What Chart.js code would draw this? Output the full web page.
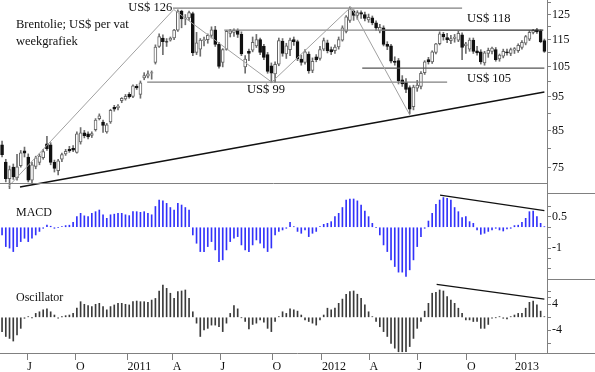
<!DOCTYPE html>
<html>
<head>
<meta charset="utf-8">
<script src="https://cdn.jsdelivr.net/npm/chart.js@4"></script>
<style>
  html, body { margin: 0; padding: 0; background: #fff; }
  canvas { display: block; }
</style>
</head>
<body>
<canvas id="brentChart" width="595" height="372"></canvas>
<script>
// Brent weekly candles, mid May 2010 - end Feb 2013 (one entry per week)
const opens = [
  81.0, 76.5, 72.4, 75.2, 72.6, 75.6, 79.4, 77.8, 72.0, 75.4,
  76.4, 77.6, 81.3, 81.0, 76.4, 74.3, 77.2, 78.6, 79.8, 80.1,
  79.0, 81.8, 84.3, 84.0, 83.6, 85.2, 88.4, 87.4, 84.6, 87.4,
  91.8, 91.6, 93.8, 94.4, 95.8, 95.2, 98.4, 95.8, 101.2, 101.8,
  102.8, 106.6, 112.4, 115.6, 114.2, 114.8, 115.6, 118.7, 126.4, 123.2,
  123.6, 125.4, 110.2, 111.4, 114.6, 115.0, 116.6, 118.8, 113.2, 106.6,
  111.3, 117.4, 117.8, 118.6, 117.0, 105.0, 110.6, 111.0, 112.6, 115.0,
  112.4, 109.4, 105.4, 102.6, 106.0, 114.4, 109.6, 111.2, 115.0, 114.2,
  107.8, 106.6, 109.6, 103.8, 108.6, 108.0, 111.4, 113.8, 111.2, 110.8,
  112.2, 114.8, 118.2, 122.6, 126.4, 124.6, 125.8, 125.0, 122.8, 123.6,
  121.6, 118.4, 119.6, 113.2, 112.6, 107.0, 107.2, 100.6, 99.8, 98.0,
  92.0, 97.8, 98.4, 103.0, 107.6, 106.8, 110.2, 113.4, 117.0, 115.8,
  114.6, 115.4, 114.8, 116.8, 112.6, 111.4, 114.8, 110.8, 110.4, 106.4,
  109.8, 110.6, 111.2, 107.8, 108.8, 110.4, 109.8, 111.0, 110.8, 112.0,
  113.6, 115.2, 117.8, 118.8, 118.2, 114.6
];
const highs = [
  82.0, 77.2, 75.5, 76.0, 78.5, 79.5, 80.4, 78.6, 76.4, 78.0,
  78.6, 79.8, 83.3, 81.6, 77.0, 77.2, 78.8, 79.8, 80.6, 80.8,
  84.6, 85.8, 85.0, 84.6, 84.6, 88.4, 89.8, 88.0, 87.0, 91.2,
  92.4, 92.6, 94.8, 95.8, 96.4, 98.9, 99.0, 100.2, 103.0, 103.6,
  103.6, 113.0, 117.2, 116.8, 115.4, 116.0, 119.0, 127.0, 126.8, 125.0,
  126.4, 126.0, 117.8, 115.4, 116.0, 117.2, 120.0, 120.2, 114.0, 111.6,
  118.6, 119.0, 119.2, 119.2, 118.0, 109.0, 111.4, 116.0, 117.0, 115.6,
  113.2, 110.2, 106.4, 106.8, 115.6, 115.4, 113.6, 115.6, 116.0, 114.8,
  109.2, 111.2, 110.4, 108.2, 109.4, 112.4, 115.6, 114.8, 112.2, 113.0,
  116.0, 120.4, 124.6, 128.2, 127.0, 126.6, 126.6, 126.0, 125.2, 124.4,
  122.4, 121.0, 120.4, 114.2, 113.2, 108.6, 108.0, 102.0, 101.0, 98.6,
  98.8, 100.4, 103.4, 107.2, 108.4, 110.8, 113.6, 118.0, 117.8, 117.4,
  116.6, 117.0, 118.2, 117.6, 114.0, 115.6, 115.6, 112.4, 111.2, 110.6,
  111.8, 112.2, 112.0, 109.6, 111.4, 111.4, 111.8, 112.0, 113.4, 114.6,
  116.6, 118.4, 119.0, 119.4, 118.8, 115.2
];
const lows = [
  77.8, 71.6, 70.0, 72.2, 72.0, 75.2, 77.8, 71.6, 71.2, 74.8,
  75.8, 77.2, 79.5, 75.8, 74.0, 73.3, 76.6, 78.2, 79.0, 79.2,
  78.8, 81.2, 82.9, 82.6, 83.0, 84.8, 88.0, 84.4, 84.2, 87.0,
  90.6, 91.0, 93.2, 94.0, 94.6, 94.8, 97.4, 94.6, 100.6, 101.2,
  100.8, 106.0, 112.0, 109.4, 112.4, 114.4, 115.0, 118.2, 119.6, 120.8,
  122.6, 109.0, 109.4, 108.8, 112.6, 113.6, 115.6, 112.4, 104.6, 105.0,
  111.0, 116.0, 116.2, 115.8, 109.0, 102.8, 107.2, 110.4, 112.0, 109.4,
  107.6, 102.8, 99.6, 99.8, 105.4, 108.8, 108.0, 109.0, 112.8, 107.2,
  105.6, 106.0, 102.8, 103.0, 106.8, 107.4, 110.8, 110.0, 109.4, 109.8,
  111.4, 114.4, 117.6, 121.8, 122.6, 123.0, 123.4, 122.4, 121.8, 120.8,
  118.6, 117.6, 112.6, 111.2, 106.4, 105.6, 99.2, 98.4, 96.4, 89.8,
  91.0, 96.8, 97.6, 102.4, 106.0, 106.2, 109.6, 113.0, 114.8, 113.8,
  113.4, 114.0, 114.2, 107.6, 109.8, 110.6, 109.8, 109.2, 106.0, 105.6,
  108.4, 109.6, 107.0, 107.0, 108.2, 109.2, 109.0, 109.8, 110.2, 111.4,
  113.0, 114.6, 117.2, 117.4, 113.8, 110.2
];
const closes = [
  78.4, 72.4, 74.6, 72.8, 75.3, 78.9, 78.8, 72.0, 75.8, 77.6,
  78.0, 79.2, 80.0, 76.4, 74.9, 76.8, 78.4, 79.3, 79.4, 79.6,
  84.0, 84.3, 83.5, 83.2, 84.1, 88.0, 89.2, 86.4, 86.6, 90.9,
  91.2, 92.2, 94.6, 95.2, 95.0, 98.6, 97.9, 99.6, 102.0, 102.6,
  103.0, 112.2, 116.2, 114.2, 114.0, 115.6, 118.7, 126.4, 123.2, 123.6,
  125.8, 110.0, 113.8, 114.8, 115.0, 116.6, 118.8, 113.2, 105.2, 111.2,
  118.2, 118.4, 118.6, 117.0, 109.6, 107.8, 109.8, 114.0, 115.0, 110.2,
  108.4, 103.4, 102.8, 105.9, 114.6, 109.8, 112.6, 114.8, 114.2, 107.8,
  106.6, 110.4, 103.6, 107.0, 107.6, 111.2, 114.6, 110.8, 110.4, 112.2,
  115.0, 119.6, 124.0, 127.4, 124.6, 125.8, 125.2, 123.4, 123.8, 121.6,
  119.6, 119.8, 113.2, 112.4, 107.0, 106.6, 100.2, 99.2, 97.4, 91.2,
  98.2, 98.8, 102.8, 106.8, 106.8, 110.4, 113.4, 117.2, 116.0, 115.0,
  115.4, 116.0, 117.4, 112.0, 113.4, 114.8, 110.6, 110.0, 106.8, 110.0,
  111.0, 111.8, 107.6, 109.2, 110.6, 110.0, 111.2, 111.6, 112.8, 114.0,
  116.2, 117.8, 118.6, 118.0, 114.2, 110.6
];
const macd = [
  -0.37, -0.93, -1.0, -1.17, -0.93, -0.69, -0.53, -0.69, -0.53, -0.37,
  -0.2, -0.05, 0.1, 0.05, -0.05, -0.02, 0.03, 0.08, 0.1, 0.24,
  0.51, 0.67, 0.55, 0.51, 0.67, 0.75, 0.83, 0.6, 0.43, 0.6,
  0.63, 0.67, 0.67, 0.6, 0.56, 0.75, 0.75, 0.72, 0.75, 0.67,
  0.6, 1.0, 1.31, 1.27, 1.15, 0.95, 0.83, 1.15, 1.07, 0.95,
  0.83, -0.37, -0.77, -1.17, -1.17, -0.93, -0.69, -1.09, -1.65, -1.57,
  -1.09, -0.69, -0.53, -0.45, -0.85, -1.09, -1.17, -0.85, -0.61, -0.77,
  -1.0, -1.17, -1.0, -0.37, -0.2, -0.13, -0.05, 0.24, 0.03, -0.2,
  -0.29, -0.13, -0.45, -0.29, -0.2, 0.03, 0.14, 0.19, 0.27, 0.51,
  0.67, 0.95, 1.31, 1.36, 1.36, 1.27, 1.07, 0.78, 0.51, 0.19,
  -0.02, -0.37, -0.85, -1.17, -1.57, -1.89, -2.16, -2.16, -2.37, -2.05,
  -1.57, -0.93, -0.45, -0.05, 0.3, 0.67, 1.1, 1.31, 1.43, 1.39,
  1.31, 0.95, 0.75, 0.47, 0.51, 0.27, 0.19, -0.13, -0.34, -0.29,
  -0.2, -0.13, -0.05, -0.13, -0.18, -0.08, -0.05, 0.08, 0.1, 0.24,
  0.43, 0.75, 0.78, 0.51, 0.19, 0.03
];
const oscillator = [
  -4.4, -5.9, -6.5, -7.3, -5.4, -3.4, -0.3, 0.2, -0.1, 1.2,
  1.7, 2.3, 2.6, 1.7, 0.7, -0.3, 0.2, 0.5, 0.7, 1.2,
  2.8, 4.8, 4.0, 3.6, 3.3, 4.0, 4.3, 3.3, 2.3, 3.3,
  3.8, 4.3, 4.3, 4.0, 3.8, 4.8, 5.0, 4.8, 4.8, 4.6,
  5.3, 5.8, 8.1, 9.9, 8.9, 7.4, 5.8, 7.9, 8.1, 8.4,
  5.8, 1.7, -1.8, -5.9, -3.9, -3.4, -2.4, -2.4, -2.9, -4.4,
  -1.8, 1.2, 3.6, 2.6, -0.1, -1.3, -3.6, -2.2, -1.8, -0.8,
  -1.5, -3.4, -4.4, -1.3, 0.2, 1.7, 1.2, 2.6, 2.3, 1.9,
  0.7, -0.8, -1.3, -1.8, -2.4, -0.8, 0.7, 2.8, 2.3, 2.8,
  4.3, 5.6, 7.1, 7.9, 8.1, 7.1, 5.8, 3.8, 1.7, 0.2,
  -1.3, -2.9, -4.4, -5.9, -8.0, -9.5, -10.6, -10.6, -10.6, -9.0,
  -6.5, -3.4, -1.3, 1.9, 4.3, 7.4, 7.7, 8.4, 8.1, 6.4,
  5.3, 4.3, 2.8, 1.2, -0.8, -0.8, -1.3, -1.3, -3.4, -3.4,
  -2.2, -0.3, -0.1, 0.2, -0.3, -0.5, 0.2, 0.7, 1.2, 1.2,
  2.8, 4.6, 5.0, 3.8, 1.9, 0.2
];

// month ticks (in weeks from the first candle)
const tickWeeks = [6.76, 19.76, 33.56, 45.64, 58.42, 72.33, 85.51, 98.21, 111.1, 124.28, 137.17];
const tickLabels = ['J', 'O', '2011', 'A', 'J', 'O', '2012', 'A', 'J', 'O', '2013'];

const priceTicks = [75, 80, 85, 90, 95, 100, 105, 110, 115, 120, 125, 130];
const priceLabels = [75, 85, 95, 105, 115, 125];
const macdTicks = [-2, -1.5, -1, -0.5, 0, 0.5, 1];
const macdLabels = [0.5, -1];
const oscTicks = [-8, -4, 0, 4, 6, 8];
const oscLabels = [4, -4];

// drawn lines (week, value)
const zigzagWeeks = [1.7, 45.9, 72.1, 93.3, 109.1];
const zigzagPrices = [70.5, 127.1, 99.8, 128.2, 89.3];
const trendWeeks = [4.8, 145.0];
const trendPrices = [70.4, 96.6];
const top126Weeks = [45.7, 123.0];
const top126Price = 127.7;
const lvl118Weeks = [59.4, 102.4, 144.7];
const lvl118Price = 118.7;
const lvl99Weeks = [38.8, 119.0];
const lvl99Price = 99.8;
const lvl105Weeks = [96.3, 145.0];
const lvl105Price = 104.6;
const macdDivWeeks = [117.1, 145.0];
const macdDivValues = [1.55, 0.8];
const oscDivWeeks = [116.2, 145.0];
const oscDivValues = [10.15, 5.6];

const serif = '"Liberation Serif", "Times New Roman", serif';
const weeks = closes.map((c, i) => i);
const rising = weeks.map(i => closes[i] >= opens[i]);

function lineSet(xs, ys, axis, color, width) {
  return {
    type: 'line',
    data: xs.map((x, i) => ({ x: x, y: ys[i] })),
    yAxisID: axis,
    borderColor: color,
    borderWidth: width,
    pointRadius: 0,
    fill: false,
    tension: 0,
    clip: false,
    order: 0
  };
}

function fitRight(scale) {
  scale.width = 48;
  scale.paddingTop = 0;
  scale.paddingBottom = 0;
}

function rightTicks(labels) {
  return {
    autoSkip: false,
    padding: 1,
    color: '#111',
    font: { family: serif, size: 12 },
    callback: v => labels.includes(v) ? String(v) : ''
  };
}

const datasets = [
  lineSet(zigzagWeeks, zigzagPrices, 'yP', '#a0a0a0', 1),
  lineSet(trendWeeks, trendPrices, 'yP', '#111', 1.4),
  lineSet(top126Weeks, top126Weeks.map(() => top126Price), 'yP', '#808080', 1.2),
  lineSet(lvl118Weeks.slice(0, 2), [lvl118Price, lvl118Price], 'yP', '#8a8a8a', 1.2),
  lineSet(lvl118Weeks.slice(1), [lvl118Price, lvl118Price], 'yP', '#333', 1.2),
  lineSet(lvl99Weeks, lvl99Weeks.map(() => lvl99Price), 'yP', '#808080', 1.2),
  lineSet(lvl105Weeks, lvl105Weeks.map(() => lvl105Price), 'yP', '#555', 1.2),
  lineSet(macdDivWeeks, macdDivValues, 'yM', '#111', 1.2),
  lineSet(oscDivWeeks, oscDivValues, 'yO', '#111', 1.2),
  {
    label: 'bodies',
    data: weeks.map(i => ({ x: i, y: [Math.min(opens[i], closes[i]), Math.max(opens[i], closes[i])] })),
    yAxisID: 'yP',
    backgroundColor: rising.map(r => r ? '#fff' : '#111'),
    borderColor: rising.map(r => r ? '#666' : '#111'),
    borderWidth: 1,
    borderSkipped: false,
    barThickness: 3,
    grouped: false,
    clip: false,
    order: 1
  },
  {
    label: 'wicks',
    data: weeks.map(i => ({ x: i, y: [lows[i], highs[i]] })),
    yAxisID: 'yP',
    backgroundColor: '#6e6e6e',
    borderWidth: 0,
    barThickness: 1,
    grouped: false,
    clip: false,
    order: 2
  },
  {
    label: 'MACD',
    data: weeks.map(i => ({ x: i, y: macd[i] })),
    yAxisID: 'yM',
    backgroundColor: 'rgb(50,50,250)',
    borderWidth: 0,
    barThickness: 1,
    grouped: false,
    order: 1
  },
  {
    label: 'Oscillator',
    data: weeks.map(i => ({ x: i, y: oscillator[i] })),
    yAxisID: 'yO',
    backgroundColor: '#3a3a3a',
    borderWidth: 0,
    barThickness: 1,
    grouped: false,
    order: 1
  }
];

const overlay = {
  id: 'overlay',
  afterDraw(chart) {
    const { ctx, chartArea: a, scales: s } = chart;
    const W = chart.width;
    const xp = v => s.x.getPixelForValue(v);
    const hline = (x0, x1, y) => {
      ctx.beginPath();
      ctx.moveTo(x0, Math.round(y) + 0.5);
      ctx.lineTo(x1, Math.round(y) + 0.5);
      ctx.stroke();
    };
    ctx.save();
    ctx.strokeStyle = '#808080';
    ctx.lineWidth = 1;
    hline(a.left, a.right, s.yP.bottom);
    hline(a.right, W, s.yM.getPixelForValue(1.67));
    hline(a.right, W, s.yM.bottom);
    hline(0, W, s.x.top);

    ctx.fillStyle = '#111';
    ctx.textBaseline = 'middle';
    ctx.font = '12.5px ' + serif;
    ctx.textAlign = 'left';
    ctx.fillText('Brentolie; US$ per vat', 16, 25);
    ctx.fillText('weekgrafiek', 16, 42);
    ctx.fillText('US$ 118', xp(124.3), s.yP.getPixelForValue(lvl118Price) - 11);
    ctx.fillText('US$ 99', xp(65.5), s.yP.getPixelForValue(lvl99Price) + 8);
    ctx.fillText('US$ 105', xp(124.3), s.yP.getPixelForValue(lvl105Price) + 11);
    ctx.textAlign = 'right';
    ctx.fillText('US$ 126', xp(45.5), s.yP.getPixelForValue(top126Price));
    ctx.textAlign = 'left';
    ctx.font = '12px ' + serif;
    ctx.fillText('MACD', 16, 213);
    ctx.fillText('Oscillator', 16, 298);
    ctx.restore();
  }
};

new Chart(document.getElementById('brentChart'), {
  type: 'bar',
  data: { datasets: datasets },
  options: {
    responsive: false,
    animation: false,
    devicePixelRatio: 1,
    layout: { padding: 0 },
    plugins: { legend: { display: false }, tooltip: { enabled: false } },
    scales: {
      x: {
        type: 'linear',
        position: 'bottom',
        min: -0.55,
        max: 145.7,
        offset: false,
        afterBuildTicks: s => { s.ticks = tickWeeks.map(v => ({ value: v })); },
        afterFit: s => { s.height = 19; s.paddingLeft = 0; s.paddingRight = 0; },
        grid: { drawOnChartArea: false, offset: false, tickLength: 7, color: '#808080' },
        border: { display: false },
        ticks: {
          autoSkip: false, maxRotation: 0, align: 'start', padding: 0,
          color: '#111', font: { family: serif, size: 12 },
          callback: (v, i) => tickLabels[i]
        }
      },
      yP: {
        type: 'logarithmic',
        position: 'right',
        stack: 'panels',
        stackWeight: 183,
        min: 71.34,
        max: 131.2,
        afterBuildTicks: s => { s.ticks = priceTicks.map(v => ({ value: v })); },
        afterFit: fitRight,
        grid: { drawOnChartArea: false, tickLength: 4, color: '#808080' },
        border: { color: '#808080' },
        ticks: rightTicks(priceLabels)
      },
      yM: {
        type: 'linear',
        position: 'right',
        stack: 'panels',
        stackWeight: 96,
        min: -2.49,
        max: 2.13,
        afterBuildTicks: s => { s.ticks = macdTicks.map(v => ({ value: v })); },
        afterFit: fitRight,
        grid: { drawOnChartArea: false, tickLength: 4, color: '#808080' },
        border: { color: '#808080' },
        ticks: rightTicks(macdLabels)
      },
      yO: {
        type: 'linear',
        position: 'right',
        stack: 'panels',
        stackWeight: 74,
        min: -10.98,
        max: 11.78,
        afterBuildTicks: s => { s.ticks = oscTicks.map(v => ({ value: v })); },
        afterFit: fitRight,
        grid: { drawOnChartArea: false, tickLength: 4, color: '#808080' },
        border: { color: '#808080' },
        ticks: rightTicks(oscLabels)
      }
    }
  },
  plugins: [overlay]
});
</script>
</body>
</html>
